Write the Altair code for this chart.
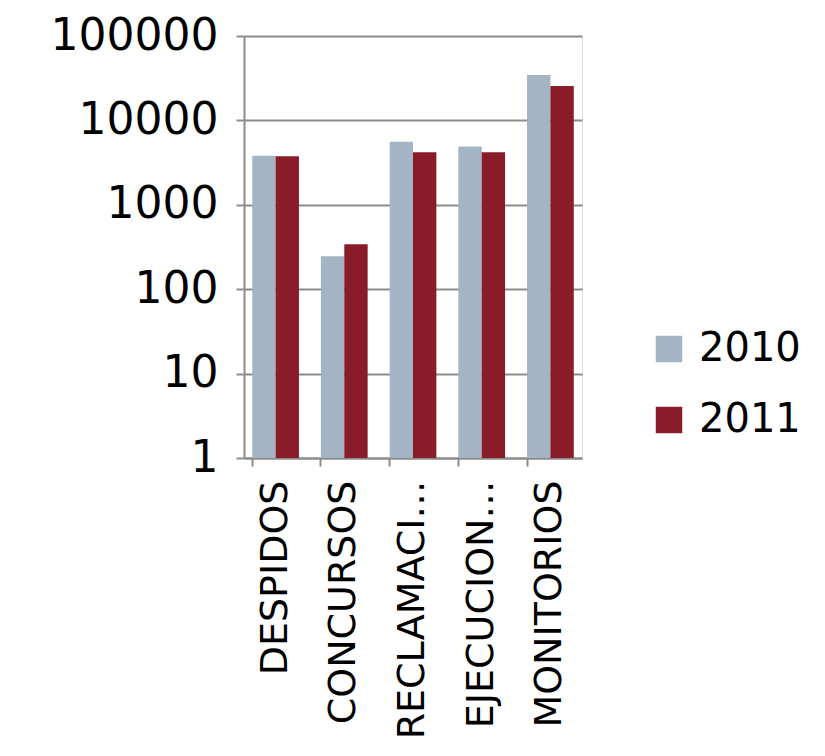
import altair as alt
import pandas as pd

categories = ["DESPIDOS", "CONCURSOS", "RECLAMACIÓN DE CANTIDAD", "EJECUCIONES HIPOTECARIAS", "MONITORIOS"]
years = ["2010", "2011"]
vals_2010 = [3800, 245, 5600, 4900, 34500]
vals_2011 = [3750, 340, 4200, 4200, 25500]
y_ticks = [1, 10, 100, 1000, 10000, 100000]
colors = ["#A3B4C5", "#8A1B29"]

rows = []
for c, a, b in zip(categories, vals_2010, vals_2011):
    rows.append({"cat": c, "year": "2010", "value": a})
    rows.append({"cat": c, "year": "2011", "value": b})
df = pd.DataFrame(rows)

font = "DejaVu Sans"

chart = alt.Chart(df).mark_bar().encode(
    x=alt.X("cat:N", sort=categories,
            scale=alt.Scale(paddingInner=0.32, paddingOuter=0.12),
            axis=alt.Axis(title=None, labelAngle=-90, labelFontSize=38, labelFont=font,
                          labelColor="#000000", labelPadding=14, labelLimit=266,
                          domainColor="#8c8c8c", domainWidth=2, tickColor="#8c8c8c",
                          tickWidth=2, tickSize=8, bandPosition=0, labelAlign="right",
                          labelBaseline="middle")),
    xOffset=alt.XOffset("year:N", sort=years),
    y=alt.Y("value:Q", scale=alt.Scale(type="log", domain=[1, 100000]),
            axis=alt.Axis(title=None, values=y_ticks, format="d", labelFontSize=44,
                          labelFont=font, labelColor="#000000", labelPadding=18,
                          domainColor="#8c8c8c", domainWidth=2, tickColor="#8c8c8c",
                          tickWidth=2, tickSize=8, gridColor="#8c8c8c", gridWidth=2,
                          minExtent=231)),
    y2=alt.datum(1),
    color=alt.Color("year:N", sort=years,
                    scale=alt.Scale(domain=years, range=colors),
                    legend=alt.Legend(title=None, orient="none", legendX=405, legendY=293,
                                      symbolType="square", symbolSize=700,
                                      symbolStrokeWidth=0, labelFontSize=40,
                                      labelFont=font, labelColor="#000000",
                                      rowPadding=31, labelOffset=10)),
).properties(
    width=338, height=422,
    padding={"left": 5, "top": 6, "right": 5, "bottom": 5},
).configure_view(strokeWidth=0).configure(background="#ffffff")

chart.save("out.html", embed_options={"renderer": "svg", "actions": False})
